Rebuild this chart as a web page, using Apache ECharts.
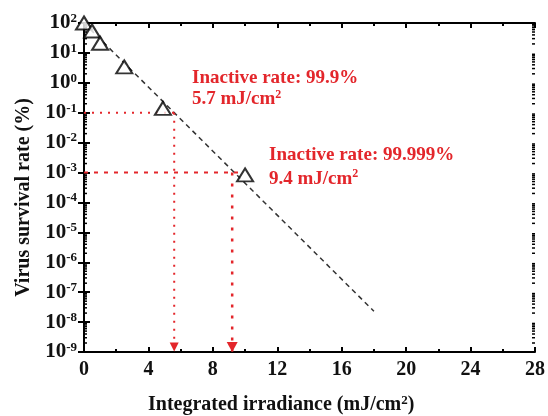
<!DOCTYPE html>
<html>
<head>
<meta charset="utf-8">
<script src="https://cdn.jsdelivr.net/npm/echarts@6/dist/echarts.min.js"></script>
<style>
  html, body { margin: 0; background: #fff; }
  #chart { width: 548px; height: 416px; }
</style>
</head>
<body>
<div id="chart"></div>
<script>
// measured points (integrated irradiance, survival %)
const irradiance = [0, 0.5, 1, 2.5, 4.9, 10];
const survival = [100, 54, 21, 3.4, 0.14, 8.3e-4];
// dashed fit line end points
const fitX = [0, 18];
const fitY = [100, 2.3e-8];
// guide lines
const guide1 = { level: 0.1, dose: 5.6, hEnd: 5.6 };
const guide2 = { level: 1e-3, dose: 9.2, hEnd: 9.6 };
const xTicks = [0, 4, 8, 12, 16, 20, 24, 28];
const yExps = [-9, -8, -7, -6, -5, -4, -3, -2, -1, 0, 1, 2];

const red = "#e3262b";
const serif = "'Liberation Serif', 'DejaVu Serif', serif";

// minor ticks for the log axis (2..9 x 10^e)
const minorVals = [];
for (let e = -9; e < 2; e++) {
  for (let k = 2; k <= 9; k++) minorVals.push(k * Math.pow(10, e));
}

const tickRich = {
  b: { fontFamily: serif, fontWeight: "bold", fontSize: 21, color: "#111", lineHeight: 22 },
  s: { fontFamily: serif, fontWeight: "bold", fontSize: 13, color: "#111", verticalAlign: "top", lineHeight: 22 },
};

const chart = echarts.init(document.getElementById("chart"));
chart.setOption({
  animation: false,
  grid: { left: 84, right: 13, top: 23, bottom: 64, containLabel: false, outerBoundsMode: "none" },
  xAxis: [
    {
      type: "value",
      min: 0,
      max: 28,
      interval: 4,
      axisLine: { lineStyle: { color: "#000", width: 2 } },
      axisTick: { inside: true, length: 5, lineStyle: { width: 2, color: "#000" } },
      minorTick: { show: true, splitNumber: 2, length: 3, lineStyle: { width: 2, color: "#000" } },
      splitLine: { show: false },
      axisLabel: {
        margin: 8,
        fontFamily: serif,
        fontWeight: "bold",
        fontSize: 20,
        color: "#111",
        customValues: xTicks,
      },
    },
    {
      type: "value",
      position: "top",
      min: 0,
      max: 28,
      interval: 4,
      axisLine: { lineStyle: { color: "#000", width: 2 } },
      axisTick: { inside: true, length: 5, lineStyle: { width: 2, color: "#000" } },
      minorTick: { show: true, splitNumber: 2, length: 3, lineStyle: { width: 2, color: "#000" } },
      splitLine: { show: false },
      axisLabel: { show: false },
    },
  ],
  yAxis: [
    {
      type: "log",
      logBase: 10,
      min: 1e-9,
      max: 1e2,
      interval: 1,
      name: "Virus survival rate (%)",
      nameLocation: "middle",
      nameGap: 50,
      nameTextStyle: { fontFamily: serif, fontWeight: "bold", fontSize: 20, color: "#111", padding: [0, 20, 0, 0] },
      axisLine: { lineStyle: { color: "#000", width: 2 } },
      axisTick: { inside: true, length: 6, lineStyle: { width: 2, color: "#000" } },
      splitLine: { show: false },
      axisLabel: {
        margin: 7,
        formatter: (v) => "{b|10}{s|" + Math.round(Math.log10(v)) + "}",
        rich: tickRich,
      },
    },
    {
      type: "log",
      logBase: 10,
      min: 1e-9,
      max: 1e2,
      interval: 1,
      position: "right",
      axisLine: { lineStyle: { color: "#000", width: 2 } },
      axisTick: { inside: true, length: 6, lineStyle: { width: 2, color: "#000" } },
      splitLine: { show: false },
      axisLabel: { show: false },
    },
  ],
  graphic: [
    {
      type: "text",
      left: 148,
      top: 394,
      style: {
        text: "{a|Integrated irradiance (mJ/cm}{s|2}{a|)}",
        rich: {
          a: { fontFamily: serif, fontWeight: "bold", fontSize: 20, fill: "#111", lineHeight: 22 },
          s: { fontFamily: serif, fontWeight: "bold", fontSize: 13, fill: "#111", verticalAlign: "top", lineHeight: 22 },
        },
      },
    },
    {
      type: "text",
      left: 192,
      top: 69,
      style: {
        text: "{a|Inactive rate: 99.9%}\n{a|5.7 mJ/cm}{s|2}",
        rich: {
          a: { fontFamily: serif, fontWeight: "bold", fontSize: 19, fill: red, lineHeight: 21 },
          s: { fontFamily: serif, fontWeight: "bold", fontSize: 12, fill: red, verticalAlign: "top", lineHeight: 21 },
        },
      },
    },
    {
      type: "text",
      left: 269,
      top: 146,
      style: {
        text: "{a|Inactive rate: 99.999%}\n{a|9.4 mJ/cm}{s|2}",
        rich: {
          a: { fontFamily: serif, fontWeight: "bold", fontSize: 19, fill: red, lineHeight: 24 },
          s: { fontFamily: serif, fontWeight: "bold", fontSize: 12, fill: red, verticalAlign: "top", lineHeight: 24 },
        },
      },
    },
  ],
  series: [
    {
      type: "custom",
      renderItem: (params, api) => {
        const v = api.value(0);
        const pl = api.coord([0, v]);
        const pr = api.coord([28, v]);
        return {
          type: "group",
          children: [
            { type: "line", shape: { x1: pl[0], y1: pl[1], x2: pl[0] + 3, y2: pl[1] }, style: { stroke: "#000", lineWidth: 1.5 } },
            { type: "line", shape: { x1: pr[0], y1: pr[1], x2: pr[0] - 3, y2: pr[1] }, style: { stroke: "#000", lineWidth: 1.5 } },
          ],
        };
      },
      data: minorVals.map((v) => [v]),
      encode: { y: 0 },
      silent: true,
      z: 1,
    },
    {
      type: "line",
      data: fitX.map((x, i) => [x, fitY[i]]),
      showSymbol: false,
      lineStyle: { color: "#333", width: 1.5, type: [5, 4] },
      silent: true,
      z: 2,
    },
    {
      type: "line",
      data: [[0, guide1.level], [guide1.hEnd, guide1.level]],
      showSymbol: false,
      lineStyle: { color: red, width: 2, type: [2, 6] },
      silent: true,
      z: 2,
    },
    {
      type: "line",
      data: [
        { value: [guide1.dose, guide1.level], symbol: "none" },
        { value: [guide1.dose, 1e-9], symbol: "triangle", symbolSize: [9, 9], symbolRotate: 180, symbolOffset: [0, -5] },
      ],
      showAllSymbol: true,
      itemStyle: { color: red },
      lineStyle: { color: red, width: 2, type: [2, 6] },
      silent: true,
      z: 2,
    },
    {
      type: "line",
      data: [[0, guide2.level], [guide2.hEnd, guide2.level]],
      showSymbol: false,
      lineStyle: { color: red, width: 2, type: [4, 6] },
      silent: true,
      z: 2,
    },
    {
      type: "line",
      data: [
        { value: [guide2.dose, guide2.level], symbol: "none" },
        { value: [guide2.dose, 1e-9], symbol: "triangle", symbolSize: [11, 10], symbolRotate: 180, symbolOffset: [0, -5] },
      ],
      showAllSymbol: true,
      itemStyle: { color: red },
      lineStyle: { color: red, width: 2.5, type: [3, 8] },
      silent: true,
      z: 2,
    },
    {
      type: "scatter",
      data: irradiance.map((x, i) => [x, survival[i]]),
      symbol: "triangle",
      symbolSize: [16, 13],
      itemStyle: { color: "#fff", borderColor: "#000", borderWidth: 2 },
      z: 5,
    },
  ],
});
</script>
</body>
</html>
